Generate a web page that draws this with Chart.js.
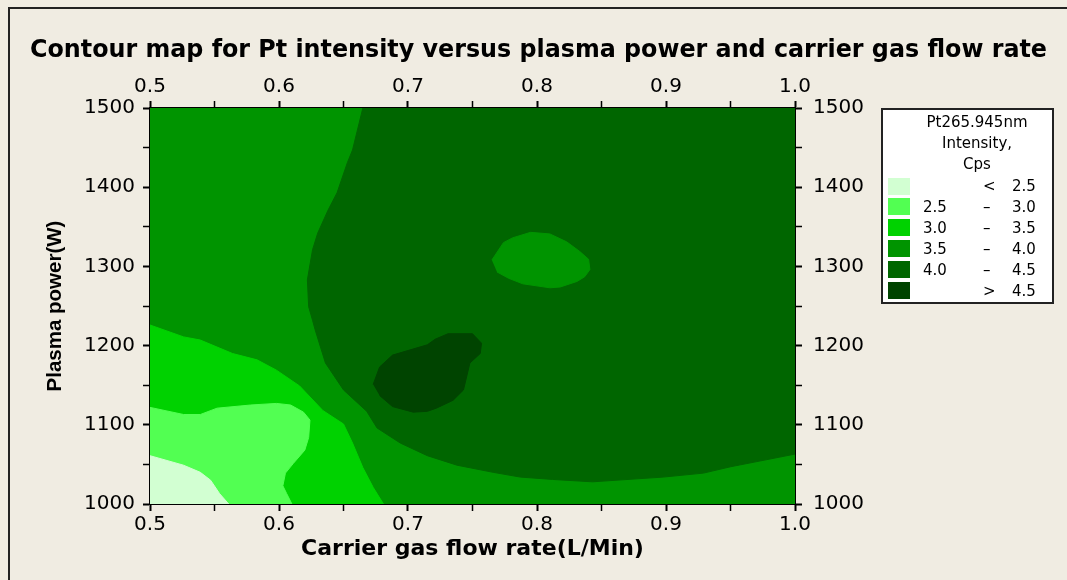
<!DOCTYPE html>
<html>
<head>
<meta charset="utf-8">
<script src="https://cdn.jsdelivr.net/npm/chart.js@4.4.1/dist/chart.umd.min.js"></script>
<style>
  html, body { margin: 0; padding: 0; background: #f0ece2; }
  #wrap { position: relative; width: 1067px; height: 580px; overflow: hidden; }
  #frame { position: absolute; left: 8px; top: 7px; width: 1100px; height: 620px;
           border-left: 2px solid #222; border-top: 2px solid #222; }
  #chart { position: absolute; left: 0; top: 0; }
  #legend { position: absolute; left: 881px; top: 108px; width: 169px; height: 192px;
            border: 2px solid #222; background: #fff; font: 15px 'DejaVu Sans', sans-serif; color: #000; }
  #legend .head { position: absolute; left: 14px; width: 160px; text-align: center; line-height: 21px; }
  #legend .sw { position: absolute; left: 5px; width: 22px; height: 17px; }
  #legend .txt { position: absolute; line-height: 20px; white-space: nowrap; }
</style>
</head>
<body>
<div id="wrap">
  <div id="frame"></div>
  <canvas id="chart" width="1067" height="580"></canvas>
  <div id="legend"></div>
</div>
<script>
// axis ticks
const xTicks = [0.5, 0.6, 0.7, 0.8, 0.9, 1.0];
const yTicks = [1000, 1100, 1200, 1300, 1400, 1500];

// legend bands (Pt265.945nm intensity, Cps)
const legendHead = ['Pt265.945nm', 'Intensity,', 'Cps'];
const bandLow = ['', '2.5', '3.0', '3.5', '4.0', ''];
const bandSym = ['<', '–', '–', '–', '–', '>'];
const bandHigh = ['2.5', '3.0', '3.5', '4.0', '4.5', '4.5'];
const bandColors = ['#d2ffd2', '#52ff52', '#00d200', '#009400', '#006600', '#004400'];

// contour regions, [flow rate L/Min, power W]
const region35to40 = [[0.5, 1000], [1.0, 1000], [1.0, 1500], [0.5, 1500]];
const region40to45 = [
  [0.665, 1500], [0.657, 1447], [0.653, 1431], [0.645, 1393], [0.638, 1371],
  [0.630, 1342], [0.626, 1321], [0.622, 1283], [0.623, 1249], [0.626, 1232],
  [0.628, 1220], [0.636, 1178], [0.650, 1144], [0.668, 1117], [0.676, 1096],
  [0.694, 1077], [0.715, 1061], [0.738, 1049], [0.766, 1040], [0.787, 1034],
  [0.812, 1031], [0.843, 1028], [0.898, 1034], [0.929, 1039], [0.950, 1047],
  [1.0, 1063], [1.0, 1500]
];
const regionAbove45 = [
  [0.673, 1151], [0.678, 1173], [0.688, 1188], [0.715, 1201], [0.721, 1208],
  [0.731, 1215], [0.750, 1215], [0.757, 1203], [0.756, 1190], [0.748, 1178],
  [0.743, 1144], [0.735, 1131], [0.722, 1121], [0.715, 1117], [0.704, 1116],
  [0.688, 1123], [0.678, 1137]
];
const islandIn35to40 = [
  [0.765, 1308], [0.774, 1330], [0.781, 1336], [0.795, 1343], [0.810, 1341],
  [0.823, 1331], [0.833, 1319], [0.840, 1309], [0.841, 1296], [0.837, 1287],
  [0.831, 1281], [0.818, 1274], [0.810, 1273], [0.789, 1278], [0.778, 1285],
  [0.769, 1293]
];
const region30to35 = [
  [0.5, 1226], [0.526, 1211], [0.539, 1207], [0.564, 1190], [0.583, 1182],
  [0.598, 1169], [0.616, 1149], [0.634, 1118], [0.650, 1101], [0.657, 1077],
  [0.665, 1046], [0.673, 1021], [0.681, 1000], [0.5, 1000]
];
const region25to30 = [
  [0.5, 1122], [0.526, 1113], [0.539, 1113], [0.552, 1121], [0.578, 1125],
  [0.598, 1127], [0.609, 1125], [0.619, 1116], [0.624, 1106], [0.623, 1084],
  [0.620, 1068], [0.611, 1051], [0.605, 1039], [0.603, 1023], [0.606, 1013],
  [0.610, 1000], [0.5, 1000]
];
const regionBelow25 = [
  [0.5, 1061], [0.526, 1049], [0.539, 1040], [0.547, 1030], [0.554, 1013],
  [0.561, 1000], [0.5, 1000]
];

function area(points, color, order) {
  return {
    data: points.map(([x, y]) => ({ x, y })),
    showLine: true,
    fill: 'shape',
    backgroundColor: color,
    borderColor: color,
    borderWidth: 1,
    pointRadius: 0,
    tension: 0,
    order
  };
}

function near(list, v, eps) {
  return list.find(t => Math.abs(t - v) < eps);
}

function xAxis(position, height) {
  return {
    type: 'linear', position, min: 0.5, max: 1.0,
    afterFit: s => { s.height = height; },
    border: { display: true, color: '#000', width: 2 },
    grid: {
      drawOnChartArea: false, tickLength: 7, tickColor: '#000',
      tickWidth: c => (near(xTicks, c.tick.value, 1e-6) !== undefined ? 2 : 1.5)
    },
    ticks: {
      stepSize: 0.05, autoSkip: false, maxRotation: 0, padding: 2, color: '#000',
      font: { size: 20 },
      callback: v => { const t = near(xTicks, v, 1e-6); return t === undefined ? '' : t.toFixed(1); }
    }
  };
}

function yAxis(position, width, padding) {
  return {
    type: 'linear', position, min: 1000, max: 1500,
    afterFit: s => { s.width = width; },
    border: { display: true, color: '#000', width: 2 },
    grid: {
      drawOnChartArea: false, tickLength: 7, tickColor: '#000',
      tickWidth: c => (near(yTicks, c.tick.value, 1e-6) !== undefined ? 2 : 1.5)
    },
    ticks: {
      stepSize: 50, autoSkip: false, padding, color: '#000',
      font: { size: 20 },
      callback: v => { const t = near(yTicks, v, 1e-6); return t === undefined ? '' : String(t); }
    }
  };
}

Chart.defaults.font.family = "'DejaVu Sans', Verdana, sans-serif";
Chart.defaults.color = '#000';

const xBottom = xAxis('bottom', 76);
xBottom.title = {
  display: true, text: 'Carrier gas flow rate(L/Min)', color: '#000',
  font: { size: 22, weight: 'bold' }, padding: { top: 0, bottom: 18 }
};
const yLeft = yAxis('left', 120, 8);
yLeft.title = {
  display: true, text: 'Plasma power(W)', color: '#000',
  font: { family: "'Liberation Sans Narrow', 'Arial Narrow', 'Liberation Sans', sans-serif", size: 20.5, weight: 'bold' },
  padding: { top: 13.5, bottom: 0 }
};

new Chart(document.getElementById('chart'), {
  type: 'scatter',
  data: {
    datasets: [
      area(region35to40, bandColors[3], 10),
      area(region40to45, bandColors[4], 9),
      area(regionAbove45, bandColors[5], 8),
      area(islandIn35to40, bandColors[3], 8),
      area(region30to35, bandColors[2], 7),
      area(region25to30, bandColors[1], 6),
      area(regionBelow25, bandColors[0], 5)
    ]
  },
  options: {
    responsive: false,
    animation: false,
    layout: { padding: { left: 30, right: 20, top: 0, bottom: 0 } },
    plugins: {
      legend: { display: false },
      tooltip: { enabled: false },
      title: {
        display: true,
        text: 'Contour map for Pt intensity versus plasma power and carrier gas flow rate',
        color: '#000',
        font: { size: 24.5, weight: 'bold', lineHeight: 1.2 },
        padding: { top: 35.5, bottom: 0 }
      }
    },
    scales: {
      x: xBottom,
      x2: xAxis('top', 43.1),
      y: yLeft,
      y2: yAxis('right', 252, 11)
    }
  }
});

// legend box
const legend = document.getElementById('legend');
legendHead.forEach((t, i) => {
  const d = document.createElement('div');
  d.className = 'head';
  d.style.top = (2 + i * 21) + 'px';
  d.textContent = t;
  legend.appendChild(d);
});
bandColors.forEach((c, i) => {
  const cy = 76 + i * 20.9;
  const sw = document.createElement('div');
  sw.className = 'sw';
  sw.style.top = (cy - 8.5) + 'px';
  sw.style.background = c;
  legend.appendChild(sw);
  [[bandLow[i], 40], [bandSym[i], 100], [bandHigh[i], 129]].forEach(([t, x]) => {
    if (!t) return;
    const d = document.createElement('div');
    d.className = 'txt';
    d.style.top = (cy - 10) + 'px';
    d.style.left = x + 'px';
    d.textContent = t;
    legend.appendChild(d);
  });
});
</script>
</body>
</html>
